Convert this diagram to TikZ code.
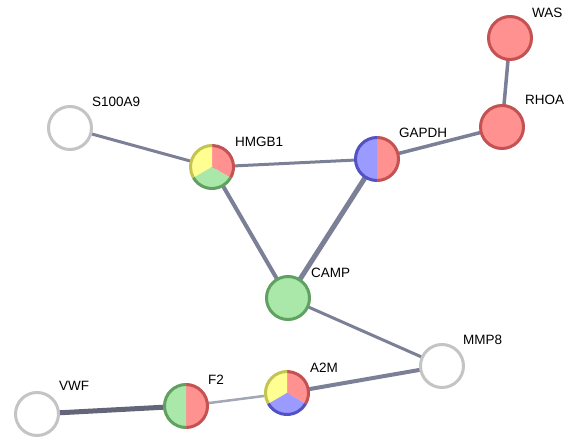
\documentclass[tikz,border=0pt]{standalone}
\usepackage{fontspec}
\setmainfont{Liberation Sans}
\definecolor{rf}{HTML}{FF9191}
\definecolor{rb}{HTML}{C45252}
\definecolor{gf}{HTML}{A9E8A9}
\definecolor{gb}{HTML}{60A060}
\definecolor{yf}{HTML}{FFFF91}
\definecolor{yb}{HTML}{C4C452}
\definecolor{bf}{HTML}{9A9AFF}
\definecolor{bb}{HTML}{5252C4}
\definecolor{wb}{HTML}{C4C4C4}
\definecolor{ec}{HTML}{7B8096}
\newcommand\mypie[5]{%
  \fill[#4] (#1.center) -- ++(#2:22.5pt) arc[start angle=#2, end angle=#3, radius=22.5pt] -- cycle;
  \draw[#5, line width=3pt] (#1.center) ++(#2:21.5pt) arc[start angle=#2, end angle=#3, radius=21.5pt];
}
\tikzset{
  prot/.style={circle, minimum size=46pt, inner sep=0pt},
  lbl/.style={anchor=west, inner sep=0pt, font=\fontsize{13.5}{15}\selectfont},
  edge/.style={draw=ec, line width=#1},
}
\begin{document}
\begin{tikzpicture}[x=1pt,y=1pt]
\useasboundingbox (0,0) rectangle (565,437);
\node[prot] (was) at (510,399) {};
\node[prot] (rhoa) at (502,310) {};
\node[prot] (gapdh) at (377,278) {};
\node[prot] (hmgb1) at (212,270) {};
\node[prot] (s100) at (70,309) {};
\node[prot] (camp) at (288,139) {};
\node[prot] (mmp8) at (442,71) {};
\node[prot] (a2m) at (287,44) {};
\node[prot] (f2) at (186,31) {};
\node[prot] (vwf) at (37,23) {};
% edges
\draw[edge=3pt] (s100.center) -- (hmgb1.center);
\draw[edge=3pt] (hmgb1.center) -- (gapdh.center);
\draw[edge=4pt] (hmgb1.center) -- (camp.center);
\draw[edge=5pt] (gapdh.center) -- (camp.center);
\draw[edge=3.5pt] (gapdh.center) -- (rhoa.center);
\draw[edge=3.5pt] (rhoa.center) -- (was.center);
\draw[edge=3pt] (camp.center) -- (mmp8.center);
\draw[edge=4pt] (mmp8.center) -- (a2m.center);
\draw[draw=ec!70, line width=2.5pt] (a2m.center) -- (f2.center);
\draw[draw=ec!80!black, line width=5pt] (f2.center) -- (vwf.center);
% node bodies
\mypie{was}{0}{360}{rf}{rb}
\mypie{rhoa}{0}{360}{rf}{rb}
\mypie{camp}{0}{360}{gf}{gb}
\mypie{s100}{0}{360}{white}{wb}
\mypie{mmp8}{0}{360}{white}{wb}
\mypie{vwf}{0}{360}{white}{wb}
\mypie{gapdh}{-90}{90}{rf}{rb}
\mypie{gapdh}{90}{270}{bf}{bb}
\mypie{f2}{-90}{90}{rf}{rb}
\mypie{f2}{90}{270}{gf}{gb}
\mypie{hmgb1}{-30}{90}{rf}{rb}
\mypie{hmgb1}{90}{210}{yf}{yb}
\mypie{hmgb1}{210}{330}{gf}{gb}
\mypie{a2m}{-30}{90}{rf}{rb}
\mypie{a2m}{90}{210}{yf}{yb}
\mypie{a2m}{210}{330}{bf}{bb}
% labels
\node[lbl] (lwas) at ([shift={(22pt,25pt)}]was.center) {WAS};
\node[lbl] (lrhoa) at ([shift={(23pt,27pt)}]rhoa.center) {RHOA};
\node[lbl] (lgapdh) at ([shift={(22pt,26pt)}]gapdh.center) {GAPDH};
\node[lbl] (lhmgb1) at ([shift={(23pt,25pt)}]hmgb1.center) {HMGB1};
\node[lbl] (ls100) at ([shift={(22pt,26pt)}]s100.center) {S100A9};
\node[lbl] (lcamp) at ([shift={(23pt,25pt)}]camp.center) {CAMP};
\node[lbl] (lmmp8) at ([shift={(21pt,26pt)}]mmp8.center) {MMP8};
\node[lbl] (la2m) at ([shift={(23pt,25pt)}]a2m.center) {A2M};
\node[lbl] (lf2) at ([shift={(22pt,26pt)}]f2.center) {F2};
\node[lbl] (lvwf) at ([shift={(22pt,28pt)}]vwf.center) {VWF};
\end{tikzpicture}
\end{document}
